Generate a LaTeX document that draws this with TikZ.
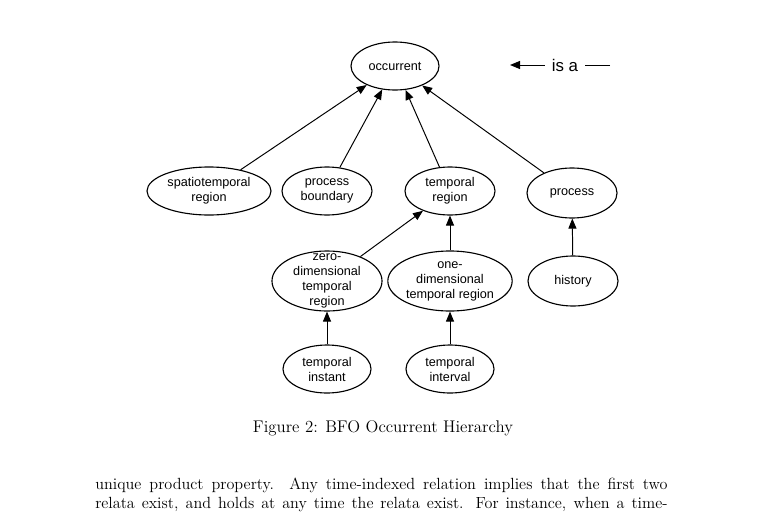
\documentclass[tikz,border=0pt]{standalone}
\usepackage{fontspec}
\newfontfamily\diagfont{Liberation Sans}
\usepackage{tikz}
\usetikzlibrary{shapes.geometric,arrows.meta,positioning}

\begin{document}
\begin{tikzpicture}[
    x=0.025cm, y=-0.025cm,
    font=\diagfont\fontsize{9}{10.7}\selectfont,
    term/.style={draw, ellipse, inner sep=0pt, minimum width=2.25cm, minimum height=1.2cm, align=center, line width=0.8pt},
    isa/.style={-{Triangle[length=2.5mm, width=2mm]}, line width=0.7pt},
    prose/.style={font=\normalfont\fontsize{11.5}{14}\selectfont, inner sep=0pt}
]
\useasboundingbox (0,0) rectangle (780,513);

\node[term, minimum width=2.2cm] (occ) at (395,66) {occurrent};

\node[term, minimum width=3.1cm] (st) at (209,191) {spatiotemporal\\region};
\node[term] (pb) at (327,191) {process\\boundary};
\node[term] (tr) at (450,191) {temporal\\region};
\node[term, minimum height=1.25cm] (proc) at (572,193) {process};

\node[term, minimum width=2.75cm, minimum height=1.5cm,
      label={[align=center]center:zero-\\dimensional\\temporal\\region}] (zero) at (327,281) {};
\node[term, minimum width=3.1cm, minimum height=1.5cm] (one) at (450,281) {one-\\dimensional\\temporal region};
\node[term, minimum height=1.25cm] (hist) at (573,281) {history};

\node[term, minimum width=2.2cm] (inst) at (327,369) {temporal\\instant};
\node[term, minimum width=2.2cm] (intv) at (450,369) {temporal\\interval};

\foreach \a/\b in {st/occ, pb/occ, tr/occ, proc/occ, zero/tr, one/tr, hist/proc, inst/zero, intv/one}
  \draw[isa] (\a) -- (\b);

% legend
\coordinate (keyL) at (510,65);
\coordinate (keyR) at (610,65);
\draw[isa] (keyR) -- node[pos=0.45, fill=white, inner xsep=5pt, font=\diagfont\fontsize{12}{14}\selectfont] (keytxt) {is a} (keyL);

% caption and text
\node[prose, font=\normalfont\fontsize{12}{14}\selectfont] (cap) at (383,428) {Figure 2: BFO Occurrent Hierarchy};
\node[prose, anchor=base west] (line1) at (95,489) {\makebox[407pt][s]{unique product property. Any time-indexed relation implies that the first two}};
\node[prose, anchor=base west] (line2) at (95,508) {\makebox[407pt][s]{relata exist, and holds at any time the relata exist. For instance, when a time-}};
\end{tikzpicture}
\end{document}
